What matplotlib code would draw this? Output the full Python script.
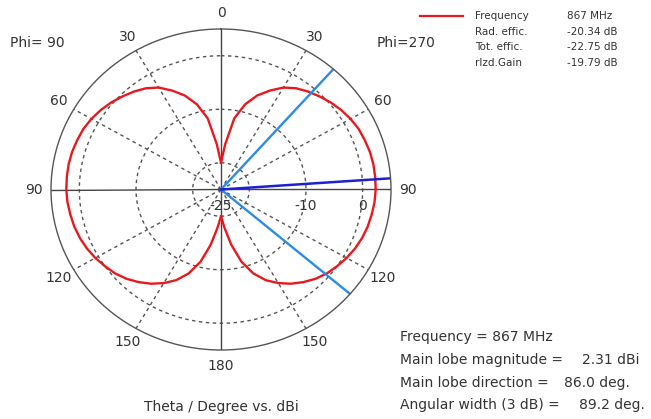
import numpy as np
import matplotlib
matplotlib.use("Agg")
import matplotlib.pyplot as plt

# farfield cut, theta in degrees, gain in dBi
theta = [0, 5, 10, 15, 20, 25, 30, 35, 40, 45, 50, 55, 60, 65, 70, 75, 80, 85, 90,
         95, 100, 105, 110, 115, 120, 125, 130, 135, 140, 145, 150, 155, 160, 165,
         170, 175, 180]
gain_phi270 = [-20.0, -16.5, -11.5, -8.5, -6.3, -4.6, -3.0, -1.9, -1.1, -0.4, 0.3,
               0.9, 1.4, 1.8, 2.0, 2.2, 2.3, 2.31, 2.3, 2.2, 2.0, 1.8, 1.5, 1.1,
               0.6, 0.0, -0.6, -1.4, -2.4, -3.5, -4.8, -6.3, -8.3, -11.0, -14.5,
               -17.8, -20.0]
gain_phi90 = gain_phi270

angle_labels = [0, 30, 60, 90, 120, 150, 180]
ring_values = [-20, -10, 0]
ring_labels = [(-25, "-25"), (-10, "-10"), (0, "0")]

frequency = "867 MHz"
main_lobe_mag = 2.31
main_lobe_dir = 86.0
angular_width = 89.2

legend_rows = [("Frequency", "867 MHz"), ("Rad. effic.", "-20.34 dB"),
               ("Tot. effic.", "-22.75 dB"), ("rlzd.Gain", "-19.79 dB")]

RMIN, RMAX = -25, 5
W, H = 651, 419
txt = "#333333"
grid_c = "#555555"


def fx(x):
    return x / W


def fy(y):
    return 1 - y / H


fig = plt.figure(figsize=(W / 100, H / 100), dpi=100)
ax = fig.add_axes([fx(51), fy(350), 340 / W, 321 / H], projection="polar")
ax.set_aspect("auto")
ax.set_theta_zero_location("N")
ax.set_theta_direction(-1)
ax.set_rlim(RMIN, RMAX)
ax.grid(False)
ax.set_xticks([])
ax.set_yticks([])
ax.spines["polar"].set_color(grid_c)
ax.spines["polar"].set_linewidth(1.0)

# dotted rings and spokes
circ = np.linspace(0, 2 * np.pi, 361)
for r in ring_values:
    ax.plot(circ, np.full_like(circ, r), color=grid_c, lw=1, ls=(0, (2.5, 2.5)))
for a in range(30, 360, 30):
    if a % 90 == 0:
        continue
    ax.plot([np.deg2rad(a)] * 2, [RMIN, RMAX], color=grid_c, lw=1, ls=(0, (2.5, 2.5)))
for a in [0, 90, 180, 270]:
    ax.plot([np.deg2rad(a)] * 2, [RMIN, RMAX], color="#444444", lw=1)

# pattern
th = np.deg2rad(theta)
ax.plot(th, gain_phi270, color="#e8191e", lw=1.7)
ax.plot(-th, gain_phi90, color="#e8191e", lw=1.7)

# main lobe and 3 dB width
for a in [main_lobe_dir - angular_width / 2, main_lobe_dir + angular_width / 2]:
    ax.plot([np.deg2rad(a)] * 2, [RMIN, RMAX], color="#2b8be6", lw=1.7)
ax.plot([np.deg2rad(main_lobe_dir)] * 2, [RMIN, RMAX], color="#1f1fd2", lw=1.8)

# angle labels
lab_r = RMIN + 1.1 * (RMAX - RMIN)
for a in angle_labels:
    ax.text(np.deg2rad(a), lab_r, str(a), ha="center", va="center",
            fontsize=10, color=txt)
    if a not in (0, 180):
        ax.text(-np.deg2rad(a), lab_r, str(a), ha="center", va="center",
                fontsize=10, color=txt)

# radial labels
for r, s in ring_labels:
    ax.annotate(s, (np.pi / 2, r), xytext=(0, -16), textcoords="offset pixels",
                ha="center", va="center", fontsize=10, color=txt)

fig.text(fx(10), fy(43), "Phi= 90", fontsize=10, color=txt, va="center")
fig.text(fx(377), fy(43), "Phi=270", fontsize=10, color=txt, va="center")
fig.text(fx(221), fy(407), "Theta / Degree vs. dBi", fontsize=10, color=txt,
         ha="center", va="center")

# legend top right
fig.lines.append(plt.Line2D([fx(420), fx(463)], [fy(16), fy(16)],
                            transform=fig.transFigure, color="#e8191e", lw=1.6))
for i, (k, v) in enumerate(legend_rows):
    y = fy(16 + 15.6 * i)
    fig.text(fx(475), y, k, fontsize=7.5, color=txt, va="center")
    fig.text(fx(567), y, v, fontsize=7.5, color=txt, va="center")

# info block
info_y = [337, 360, 383, 405]
fs = 10
fig.text(fx(400), fy(info_y[0]), f"Frequency = {frequency}", fontsize=fs,
         color=txt, va="center")
fig.text(fx(400), fy(info_y[1]), "Main lobe magnitude =", fontsize=fs,
         color=txt, va="center")
fig.text(fx(582), fy(info_y[1]), f"{main_lobe_mag:.2f} dBi", fontsize=fs,
         color=txt, va="center")
fig.text(fx(400), fy(info_y[2]), "Main lobe direction =", fontsize=fs,
         color=txt, va="center")
fig.text(fx(564), fy(info_y[2]), f"{main_lobe_dir:.1f} deg.", fontsize=fs,
         color=txt, va="center")
fig.text(fx(400), fy(info_y[3]), "Angular width (3 dB) =", fontsize=fs,
         color=txt, va="center")
fig.text(fx(579), fy(info_y[3]), f"{angular_width:.1f} deg.", fontsize=fs,
         color=txt, va="center")

fig.savefig("out.png", dpi=100)
